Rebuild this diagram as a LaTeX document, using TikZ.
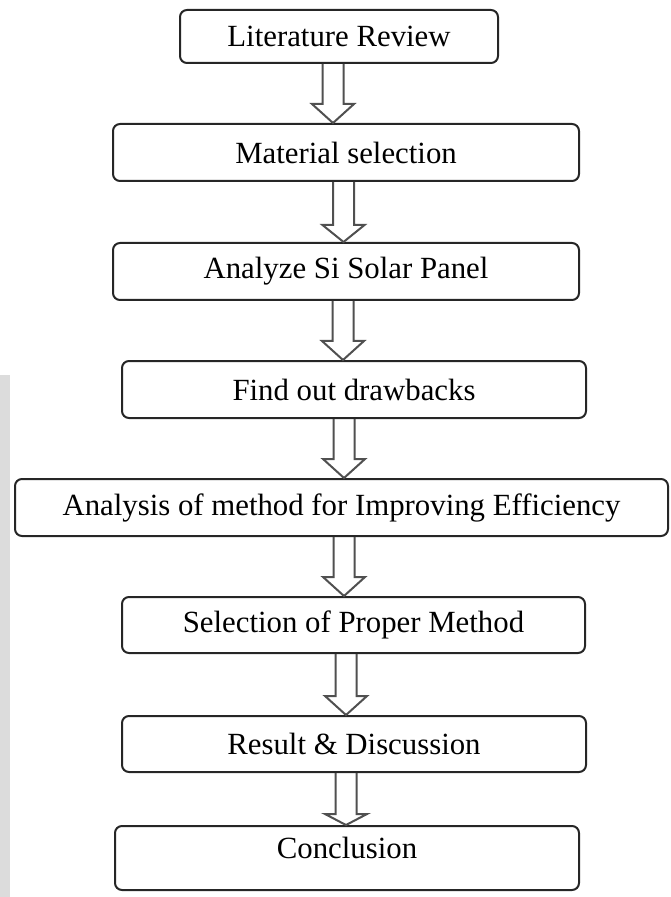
\documentclass[tikz,border=0pt]{standalone}
\usepackage{fontspec}
\setmainfont{Liberation Serif}
\usetikzlibrary{calc}
\definecolor{boxline}{HTML}{262626}
\definecolor{arrowgray}{HTML}{505050}
\definecolor{stripgray}{HTML}{DCDCDC}
% hollow block arrow: source, target, centre x, head length
\newcommand{\hollowdown}[4]{%
  \draw[hollow] (#3-10.5,0 |- #1.south) -- ($(#3-10.5,0 |- #2.north)+(0,-#4)$)
    -- ($(#3-21,0 |- #2.north)+(0,-#4)$) -- (#3,0 |- #2.north)
    -- ($(#3+21,0 |- #2.north)+(0,-#4)$) -- ($(#3+10.5,0 |- #2.north)+(0,-#4)$)
    -- (#3+10.5,0 |- #1.south);}
\begin{document}
\begin{tikzpicture}[x=0.5pt, y=-0.5pt,
    stage/.style={draw=boxline, line width=1pt, rounded corners=3.5pt, fill=white,
      font=\fontsize{15.4}{18}\selectfont, inner sep=0pt},
    boxsize/.style 2 args={minimum width=#1*0.5pt, minimum height=#2*0.5pt},
    hollow/.style={draw=arrowgray, line width=1pt, line join=miter}]
    \useasboundingbox (0,0) rectangle (670,897);
    \fill[stripgray] (0,375) rectangle (10,897);
    % stages
    \node[stage, boxsize={318}{53}] (lit) at (339,36.5) {Literature Review};
    \node[stage, boxsize={466}{57}] (mat) at (346,152.5) {Material selection};
    \node[stage, boxsize={466}{57}] (ana) at (346,271.5) {Analyze Si Solar Panel};
    \node[stage, boxsize={464}{57}] (find) at (354,389.5) {Find out drawbacks};
    \node[stage, boxsize={653}{57}] (meth) at (341.5,507.5) {Analysis of method for Improving Efficiency};
    \node[stage, boxsize={463}{56}] (sel) at (353.5,625) {Selection of Proper Method};
    \node[stage, boxsize={464}{56}] (res) at (354,744) {Result \& Discussion};
    \node[stage, boxsize={464}{64}, text depth=10pt] (concl) at (347,858) {Conclusion};
    % arrows
    \hollowdown{lit}{mat}{333}{19}
    \hollowdown{mat}{ana}{343.5}{17}
    \hollowdown{ana}{find}{343}{19}
    \hollowdown{find}{meth}{344}{19}
    \hollowdown{meth}{sel}{344}{19}
    \hollowdown{sel}{res}{346}{19}
    \hollowdown{res}{concl}{346}{11}
\end{tikzpicture}
\end{document}
